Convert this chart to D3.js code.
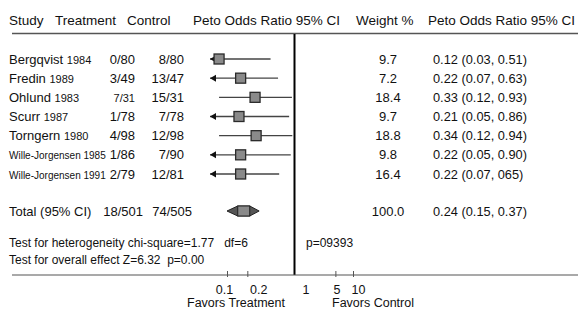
<!DOCTYPE html>
<html>
<head>
<meta charset="utf-8">
<script src="https://cdn.jsdelivr.net/npm/d3@7"></script>
<style>
  body { margin: 0; background: #fff; }
  svg text { font-family: "Liberation Sans", Arial, Helvetica, sans-serif; fill: #111; }
</style>
</head>
<body>
<svg width="578" height="313"></svg>
<script>
var studies = ['Bergqvist', 'Fredin', 'Ohlund', 'Scurr', 'Torngern', 'Wille-Jorgensen', 'Wille-Jorgensen'];
var years = ['1984', '1989', '1983', '1987', '1980', '1985', '1991'];
var treatment = ['0/80', '3/49', '7/31', '1/78', '4/98', '1/86', '2/79'];
var control = ['8/80', '13/47', '15/31', '7/78', '12/98', '7/90', '12/81'];
var weights = ['9.7', '7.2', '18.4', '9.7', '18.8', '9.8', '16.4'];
var oddsRatio = [0.12, 0.22, 0.33, 0.21, 0.34, 0.22, 0.22];
var lower = [0.03, 0.07, 0.12, 0.05, 0.12, 0.05, 0.07];
var upper = [0.51, 0.63, 0.93, 0.86, 0.94, 0.9, 0.65];
var ciLabels = ['0.12 (0.03, 0.51)', '0.22 (0.07, 0.63)', '0.33 (0.12, 0.93)', '0.21 (0.05, 0.86)',
  '0.34 (0.12, 0.94)', '0.22 (0.05, 0.90)', '0.22 (0.07, 065)'];

var totalRow = { label: 'Total (95% CI)', treat: '18/501', ctrl: '74/505', weight: '100.0',
  or: 0.24, lo: 0.15, hi: 0.37, text: '0.24 (0.15, 0.37)' };

var headers = ['Study', 'Treatment', 'Control', 'Peto Odds Ratio 95% CI', 'Weight %', 'Peto Odds Ratio 95% CI'];
var axisTicks = [0.1, 0.2, 1, 5, 10];

var svg = d3.select('svg');
var width = +svg.attr('width');

var rows = studies.map(function (s, i) {
  return { name: s, year: years[i], treat: treatment[i], ctrl: control[i], weight: weights[i],
    or: oddsRatio[i], lo: lower[i], hi: upper[i], text: ciLabels[i] };
});

// scale for the plotted estimates
var x = d3.scaleLog().domain([0.093, 1]).range([210, 294.5]);
var xMin = x.domain()[0];
// the printed axis is not drawn to the same scale in the source figure
var xAxisScale = d3.scaleLog().domain([0.1, 1, 10]).range([227, 294.5, 353]);
var y = d3.scaleLinear().domain([0, rows.length - 1]).range([59, 174]);
var totalY = 211;
var axisY = 275;

// header
var hx = [9, 55, 127, 193, 356, 428];
svg.append('g').selectAll('text')
  .data(headers).enter().append('text')
  .attr('x', function (d, i) { return hx[i]; })
  .attr('y', 25)
  .style('font-size', '13.5px')
  .text(function (d) { return d; });

svg.append('line')
  .attr('x1', 12).attr('x2', width)
  .attr('y1', 33.5).attr('y2', 33.5)
  .style('stroke', '#555').style('stroke-width', 1.5);

// study rows
var row = svg.append('g').selectAll('g')
  .data(rows).enter().append('g')
  .attr('transform', function (d, i) { return 'translate(0,' + y(i) + ')'; });

row.append('text')
  .attr('x', 9).attr('y', 4.5)
  .each(function (d) {
    var t = d3.select(this);
    var big = d.name.length > 12 ? 10 : 13;
    t.append('tspan').style('font-size', big + 'px').text(d.name + ' ');
    t.append('tspan').style('font-size', (big === 13 ? 11 : 10) + 'px').text(d.year);
  });

row.append('text')
  .attr('x', 135).attr('y', 4.5)
  .attr('text-anchor', 'end')
  .style('font-size', function (d) { return d.treat === '7/31' ? '11px' : '13px'; })
  .text(function (d) { return d.treat; });

row.append('text')
  .attr('x', 184).attr('y', 4.5)
  .attr('text-anchor', 'end')
  .style('font-size', '13px')
  .text(function (d) { return d.ctrl; });

row.append('text')
  .attr('x', 388).attr('y', 4.5)
  .attr('text-anchor', 'middle')
  .style('font-size', '13px')
  .text(function (d) { return d.weight; });

row.append('text')
  .attr('x', 433).attr('y', 4.5)
  .style('font-size', '12.8px')
  .text(function (d) { return d.text; });

// confidence interval lines
row.append('line')
  .attr('x1', function (d) { return x(Math.max(d.lo, xMin)); })
  .attr('x2', function (d) { return Math.min(x(d.hi), x(1)); })
  .attr('y1', 0).attr('y2', 0)
  .style('stroke', '#444')
  .style('stroke-width', 1.4);

// arrows for intervals running off the left edge
row.filter(function (d) { return d.lo < xMin; })
  .append('path')
  .attr('d', function () {
    var ax = x(xMin);
    return 'M' + ax + ',0L' + (ax + 6) + ',-3.5L' + (ax + 6) + ',3.5Z';
  })
  .style('fill', '#111');

row.append('rect')
  .attr('x', function (d) { return x(d.or) - 5; })
  .attr('y', -5)
  .attr('width', 10).attr('height', 10)
  .style('fill', '#8a8a8a')
  .style('stroke', '#2a2a2a')
  .style('stroke-width', 1.3);

// total row
var total = svg.append('g').attr('transform', 'translate(0,' + totalY + ')');
total.append('text').attr('x', 9).attr('y', 4.5).style('font-size', '13px').text(totalRow.label);
total.append('text').attr('x', 143).attr('y', 4.5).attr('text-anchor', 'end').style('font-size', '13px').text(totalRow.treat);
total.append('text').attr('x', 192).attr('y', 4.5).attr('text-anchor', 'end').style('font-size', '13px').text(totalRow.ctrl);
total.append('text').attr('x', 388).attr('y', 4.5).attr('text-anchor', 'middle').style('font-size', '13px').text(totalRow.weight);
total.append('text').attr('x', 433).attr('y', 4.5).style('font-size', '12.8px').text(totalRow.text);

var cx = x(totalRow.or);
total.append('path')
  .attr('d', 'M' + x(totalRow.lo) + ',0L' + (cx - 6) + ',-5L' + (cx + 6) + ',-5L' +
    x(totalRow.hi) + ',0L' + (cx + 6) + ',5L' + (cx - 6) + ',5Z')
  .style('fill', '#555')
  .style('stroke', '#222')
  .style('stroke-width', 1);
total.append('rect')
  .attr('x', cx - 6).attr('y', -5)
  .attr('width', 12).attr('height', 10)
  .style('fill', '#8a8a8a')
  .style('stroke', '#222')
  .style('stroke-width', 1);

// tests
svg.append('text').attr('x', 9).attr('y', 247).style('font-size', '12px')
  .text('Test for heterogeneity chi-square=1.77\u00a0\u00a0 df=6');
svg.append('text').attr('x', 306).attr('y', 247).style('font-size', '12px').text('p=09393');
svg.append('text').attr('x', 9).attr('y', 264).style('font-size', '12px')
  .text('Test for overall effect Z=6.32\u00a0 p=0.00');

// line of no effect
svg.append('line')
  .attr('x1', x(1)).attr('x2', x(1))
  .attr('y1', 34).attr('y2', axisY)
  .style('stroke', '#000').style('stroke-width', 2);

// bottom axis
svg.append('line')
  .attr('x1', 12).attr('x2', width)
  .attr('y1', axisY).attr('y2', axisY)
  .style('stroke', '#555').style('stroke-width', 1.2);

var axis = svg.append('g')
  .attr('transform', 'translate(0,' + axisY + ')')
  .call(d3.axisBottom(xAxisScale).tickValues(axisTicks).tickSize(0).tickFormat(d3.format('')));
axis.select('.domain').remove();
axis.selectAll('text')
  .attr('dx', function (d) {
    if (d === 0.1) return -3;
    if (d === 0.2) return 11;
    if (d === 1) return 11;
    if (d === 10) return 5;
    return 1;
  })
  .attr('dy', 16)
  .style('font-size', '12.5px')
  .style('font-family', '"Liberation Sans", Arial, sans-serif')
  .style('fill', '#111');
axis.selectAll('.tick').filter(function (d) { return d !== 1; })
  .append('line')
  .attr('y1', -4).attr('y2', 2)
  .style('stroke', '#555');

svg.append('text').attr('x', 236).attr('y', 307).attr('text-anchor', 'middle')
  .style('font-size', '12.5px').text('Favors Treatment');
svg.append('text').attr('x', 373).attr('y', 307).attr('text-anchor', 'middle')
  .style('font-size', '12.5px').text('Favors Control');
</script>
</body>
</html>
